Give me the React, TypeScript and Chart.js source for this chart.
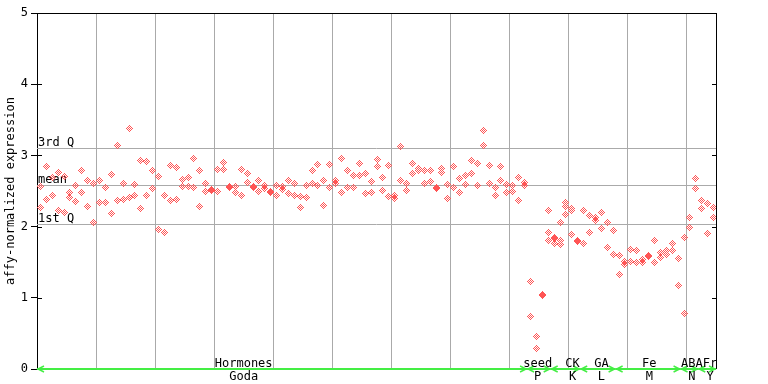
import React, { useEffect, useRef } from 'react';
import { Chart, registerables } from 'chart.js';

Chart.register(...registerables);

const FONT = '"DejaVu Sans Mono", monospace';
const RED = '#ff5555';
const GRID = '#aaaaaa';
const GREEN = '#44ee44';

// replicate values per sample, grouped by category
const hormonesValues: number[][] = [
  [2.57, 2.275], [2.85, 2.39], [2.69, 2.45], [2.77, 2.23], [2.71, 2.2], [2.49, 2.42], [2.59, 2.36], [2.795, 2.49], [2.66, 2.285], [2.61, 2.06],
  [2.65, 2.345], [2.55, 2.345], [2.74, 2.19], [3.15, 2.37], [2.61, 2.39], [3.39, 2.42], [2.6, 2.44], [2.93, 2.26], [2.92, 2.44], [2.795, 2.54],
  [2.71, 1.96], [2.45, 1.92], [2.86, 2.37], [2.84, 2.39], [2.67, 2.57], [2.69, 2.57], [2.96, 2.55], [2.795, 2.285], [2.61, 2.5], [2.53, 2.52],
  [2.81, 2.5], [2.91, 2.81], [2.565, 2.551], [2.57, 2.48], [2.81, 2.45], [2.75, 2.62], [2.565, 2.551], [2.65, 2.5], [2.58, 2.54], [2.5, 2.49],
  [2.58, 2.44], [2.57, 2.53], [2.65, 2.47], [2.61, 2.44], [2.43, 2.27], [2.59, 2.41], [2.8, 2.61], [2.88, 2.59], [2.66, 2.3], [2.88, 2.55],
  [2.66, 2.61], [2.97, 2.48], [2.79, 2.55], [2.73, 2.55], [2.89, 2.73], [2.75, 2.47], [2.64, 2.48], [2.945, 2.85], [2.69, 2.51], [2.86, 2.43],
  [2.44, 2.4], [3.13, 2.66], [2.61, 2.52], [2.9, 2.75], [2.83, 2.8], [2.8, 2.61], [2.8, 2.64], [2.556, 2.542], [2.83, 2.76], [2.6, 2.4],
  [2.85, 2.55], [2.68, 2.48], [2.72, 2.6], [2.93, 2.75], [2.89, 2.58], [3.35, 3.14], [2.86, 2.61], [2.55, 2.44], [2.85, 2.66], [2.6, 2.48],
  [2.59, 2.5], [2.69, 2.37], [2.62, 2.58],
];
const seedValues: number[][] = [[1.23, 0.74], [0.47, 0.29], [1.057, 1.043], [2.23, 1.93, 1.81]];
const ckValues: number[][] = [[1.86, 1.84, 1.77], [2.06, 1.81, 1.75], [2.34, 2.29, 2.17], [2.26, 2.23, 1.89], [1.817, 1.803]];
const gaValues: number[][] = [[2.23, 1.77], [2.16, 1.93], [2.14, 2.09], [2.21, 1.98], [2.06, 1.72], [1.95, 1.61]];
const feValues: number[][] = [
  [1.6, 1.33], [1.51, 1.47], [1.68, 1.51], [1.67, 1.5], [1.54, 1.5], [1.597, 1.583], [1.81, 1.5], [1.64, 1.57], [1.67, 1.61], [1.77, 1.67], [1.555, 1.18],
];
const abaValues: number[][] = [[1.85, 0.78], [2.13, 1.99], [2.68, 2.54]];
const frValues: number[][] = [[2.37, 2.26], [2.33, 1.91], [2.27, 2.14]];

const groupNames = ['Hormones', 'seed', 'CK', 'GA', 'Fe', 'ABA', 'Fr'];
const groupSources = ['Goda', 'P', 'K', 'L', 'M', 'N', 'Y'];
const groupValues = [hormonesValues, seedValues, ckValues, gaValues, feValues, abaValues, frValues];
const groupLabelAt = [35, 84.8, 90.7, 95.6, 103.7, 110.9, 114.0];

const quartileValues = [3.1, 2.58, 2.03];
const quartileLabels = ['3rd Q', 'mean', '1st Q'];
const yTicks = [0, 1, 2, 3, 4, 5];
const yTitle = 'affy-normalized expression';
const gridEvery = 10;

function makeMarker(): HTMLCanvasElement {
  // 8x8 canvas, checkered diamond occupying columns/rows 1..7, centred on (4,4)
  const c = document.createElement('canvas');
  c.width = 8;
  c.height = 8;
  const g = c.getContext('2d')!;
  g.fillStyle = RED;
  for (let y = 1; y < 8; y++) {
    for (let x = 1; x < 8; x++) {
      if (Math.abs(x - 4) + Math.abs(y - 4) <= 3 && (x + y) % 2 === 1) g.fillRect(x, y, 1, 1);
    }
  }
  return c;
}

export default function App() {
  const ref = useRef<HTMLCanvasElement>(null);

  useEffect(() => {
    const points: { x: number; y: number }[] = [];
    const bounds: number[] = [0];
    let idx = 0;
    groupValues.forEach((g) => {
      g.forEach((reps) => {
        reps.forEach((v) => points.push({ x: idx + 0.5, y: v }));
        idx++;
      });
      bounds.push(idx);
    });
    const total = idx;

    const overlay = {
      id: 'overlay',
      beforeDatasetsDraw(chart: any) {
        const { ctx, chartArea } = chart;
        const ys = chart.scales.y;
        ctx.save();
        ctx.strokeStyle = GRID;
        ctx.lineWidth = 1;
        ctx.fillStyle = '#000';
        ctx.font = `12px ${FONT}`;
        ctx.textAlign = 'left';
        ctx.textBaseline = 'alphabetic';
        quartileValues.forEach((q, k) => {
          const y = Math.round(ys.getPixelForValue(q)) + 0.5;
          ctx.beginPath();
          ctx.moveTo(chartArea.left, y);
          ctx.lineTo(chartArea.right, y);
          ctx.stroke();
          ctx.fillText(quartileLabels[k], chartArea.left + 1, y - 2.5);
        });
        ctx.restore();
        ctx.imageSmoothingEnabled = false;
      },
      afterDraw(chart: any) {
        const { ctx, chartArea } = chart;
        const xs = chart.scales.x;
        const ys = chart.scales.y;
        ctx.save();
        // frame
        ctx.strokeStyle = '#000';
        ctx.lineWidth = 1;
        ctx.beginPath();
        ctx.moveTo(chartArea.left, chartArea.top + 0.5);
        ctx.lineTo(chartArea.right + 1, chartArea.top + 0.5);
        ctx.moveTo(chartArea.right + 0.5, chartArea.top);
        ctx.lineTo(chartArea.right + 0.5, chartArea.bottom);
        yTicks.forEach((t) => {
          if (t === 0 || t === yTicks[yTicks.length - 1]) return;
          const y = Math.round(ys.getPixelForValue(t)) + 0.5;
          ctx.moveTo(chartArea.left, y);
          ctx.lineTo(chartArea.left + 5, y);
          ctx.moveTo(chartArea.right + 1, y);
          ctx.lineTo(chartArea.right - 4, y);
        });
        ctx.stroke();

        // category arrows
        const y0 = chartArea.bottom;
        ctx.strokeStyle = GREEN;
        groupNames.forEach((name, k) => {
          const a = xs.getPixelForValue(bounds[k]);
          const b = xs.getPixelForValue(bounds[k + 1]);
          ctx.lineWidth = 2;
          ctx.beginPath();
          ctx.moveTo(a, y0);
          ctx.lineTo(b, y0);
          ctx.stroke();
          ctx.lineWidth = 1.5;
          ctx.beginPath();
          ctx.moveTo(a + 7, y0 - 3);
          ctx.lineTo(a + 1, y0);
          ctx.lineTo(a + 7, y0 + 3);
          ctx.moveTo(b - 7, y0 - 3);
          ctx.lineTo(b - 1, y0);
          ctx.lineTo(b - 7, y0 + 3);
          ctx.stroke();
        });

        ctx.fillStyle = '#000';
        ctx.font = `12px ${FONT}`;
        ctx.textAlign = 'center';
        ctx.textBaseline = 'alphabetic';
        groupNames.forEach((name, k) => {
          const cx = xs.getPixelForValue(groupLabelAt[k]);
          ctx.fillText(name, cx, y0 - 2);
          ctx.fillText(groupSources[k], cx, y0 + 11);
        });
        ctx.restore();
      },
    };

    const chart = new Chart(ref.current!, {
      type: 'scatter',
      data: {
        datasets: [
          {
            data: points,
            pointStyle: makeMarker() as any,
            pointRadius: 3.5,
            pointHoverRadius: 3.5,
            backgroundColor: RED,
            borderColor: RED,
          },
        ],
      },
      options: {
        animation: false,
        responsive: false,
        devicePixelRatio: 1,
        events: [],
        layout: { padding: { top: 13, right: 52, left: 0, bottom: 0 } },
        plugins: { legend: { display: false }, tooltip: { enabled: false } },
        scales: {
          x: {
            type: 'linear',
            min: 0,
            max: total,
            afterBuildTicks: (s: any) => {
              const t = [];
              for (let v = 0; v <= total; v += gridEvery) t.push({ value: v });
              s.ticks = t;
            },
            afterFit: (s: any) => {
              s.height = 15;
            },
            ticks: { display: false },
            grid: {
              color: (c: any) => (c.tick && c.tick.value === 0 ? 'rgba(0,0,0,0)' : GRID),
              drawTicks: false,
              lineWidth: 1,
            },
            border: { display: false },
          },
          y: {
            type: 'linear',
            min: 0,
            max: 5,
            afterBuildTicks: (s: any) => {
              s.ticks = yTicks.map((v) => ({ value: v }));
            },
            afterFit: (s: any) => {
              s.width = 37;
            },
            ticks: { color: '#000', font: { family: FONT, size: 12 }, padding: 3 },
            grid: { drawOnChartArea: false, color: '#000', tickLength: 6 },
            border: { display: true, color: '#000' },
            title: {
              display: true,
              text: yTitle,
              color: '#000',
              font: { family: FONT, size: 12 },
              padding: { top: 4, bottom: 0 },
            },
          },
        },
      },
      plugins: [overlay],
    });
    return () => chart.destroy();
  }, []);

  return (
    <div style={{ position: 'absolute', left: 0, top: 0 }}>
      <canvas ref={ref} width={768} height={384} style={{ display: 'block', width: 768, height: 384 }} />
    </div>
  );
}
